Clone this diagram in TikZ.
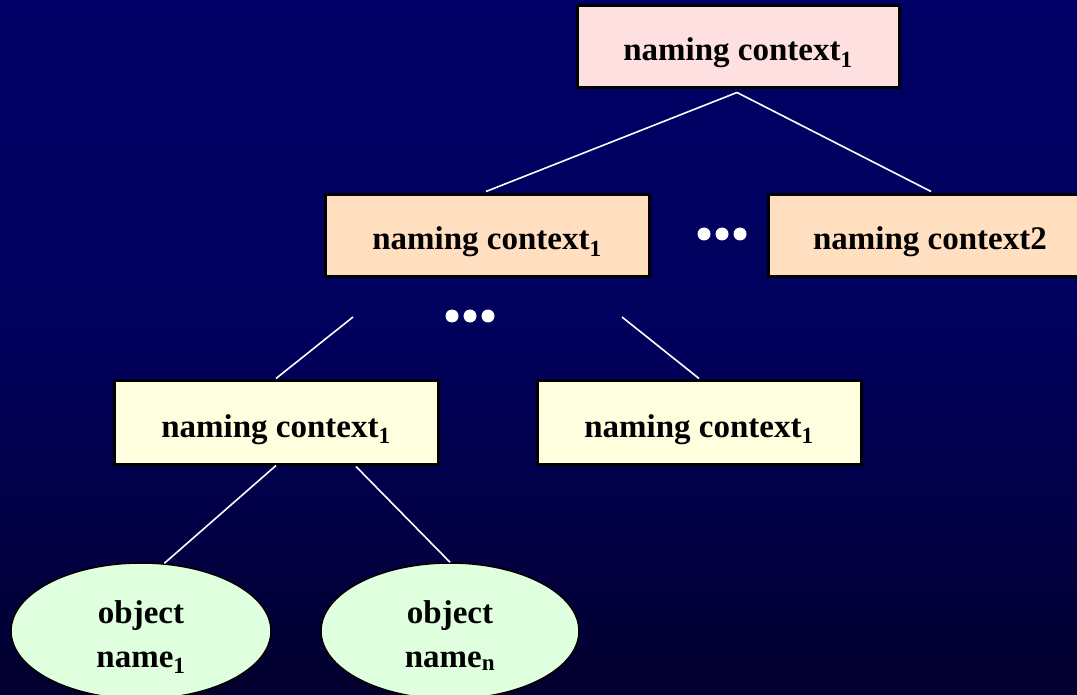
\documentclass[tikz,border=0pt]{standalone}
\usepackage{fontspec}
\setmainfont{Liberation Serif}
\usetikzlibrary{shapes.geometric,calc}
\definecolor{bgtop}{HTML}{000066}
\definecolor{bgmid}{HTML}{00005C}
\definecolor{bgbot}{HTML}{03002E}
\definecolor{pinkfill}{HTML}{FFE0E0}
\definecolor{peachfill}{HTML}{FFDFBF}
\definecolor{yellowfill}{HTML}{FFFFDF}
\definecolor{greenfill}{HTML}{DFFFDF}
% baseline placed a fixed distance below the node centre
\newcommand{\lowtext}[2][14pt]{\raisebox{-#1}[0pt][0pt]{#2}}
\newcommand{\twolines}[2]{\raisebox{8pt}[0pt][0pt]{\begin{tabular}[t]{@{}c@{}}#1\\#2\end{tabular}}}
\tikzset{
  ctxbox/.style={draw=black, line width=3pt, rectangle, inner sep=0pt,
    minimum width=324pt, minimum height=82pt,
    font=\fontsize{33}{38}\selectfont\bfseries},
  objell/.style={draw=black, line width=1.5pt, ellipse, inner sep=0pt,
    minimum width=260pt, minimum height=136pt,
    font=\fontsize{33}{44}\selectfont\bfseries},
  link/.style={draw=white, line width=1.6pt},
  dotmark/.style={fill=white}
}
\begin{document}
\begin{tikzpicture}[x=1pt,y=-1pt]
\useasboundingbox (0,0) rectangle (1077,695);
\shade[top color=bgtop, bottom color=bgbot, middle color=bgmid] (0,0) rectangle (1077,695);

\node[ctxbox, fill=pinkfill, minimum width=322pt] (top) at (738,47) {\lowtext{naming context\textsubscript{1}}};
\node[ctxbox, fill=peachfill] (midL) at (487,236) {\lowtext{naming context\textsubscript{1}}};
\node[ctxbox, fill=peachfill] (midR) at (930,236) {\lowtext{naming context2}};
\node[ctxbox, fill=yellowfill, minimum height=84pt] (lowL) at (276,422) {\lowtext[15pt]{naming context\textsubscript{1}}};
\node[ctxbox, fill=yellowfill, minimum height=84pt] (lowR) at (699,422) {\lowtext[15pt]{naming context\textsubscript{1}}};
\node[objell, fill=greenfill] (obj1) at (141,631) {\twolines{object}{name\textsubscript{1}}};
\node[objell, fill=greenfill, minimum width=258pt] (obj2) at (450,631) {\twolines{object}{name\textsubscript{n}}};

\coordinate (apex) at ($(top.south)+(-1,3)$);
\coordinate (freeL) at (353,317);
\coordinate (freeR) at (622,317);
\coordinate (lowLb) at ($(lowL.south)+(80,1)$);

\draw[link] (apex) -- ($(midL.north)+(-1,-2)$);
\draw[link] (apex) -- ($(midR.north)+(1,-2)$);
\draw[link] (freeL) -- (lowL.north);
\draw[link] (freeR) -- (lowR.north);
\draw[link] (lowL.south) -- (obj1.71);
\draw[link] (lowLb) -- (obj2.north);

\foreach \x in {704,722,740} \fill[dotmark] (\x,234) circle (6.5);
\foreach \x in {452,470,488} \fill[dotmark] (\x,316) circle (6.5);
\end{tikzpicture}
\end{document}
